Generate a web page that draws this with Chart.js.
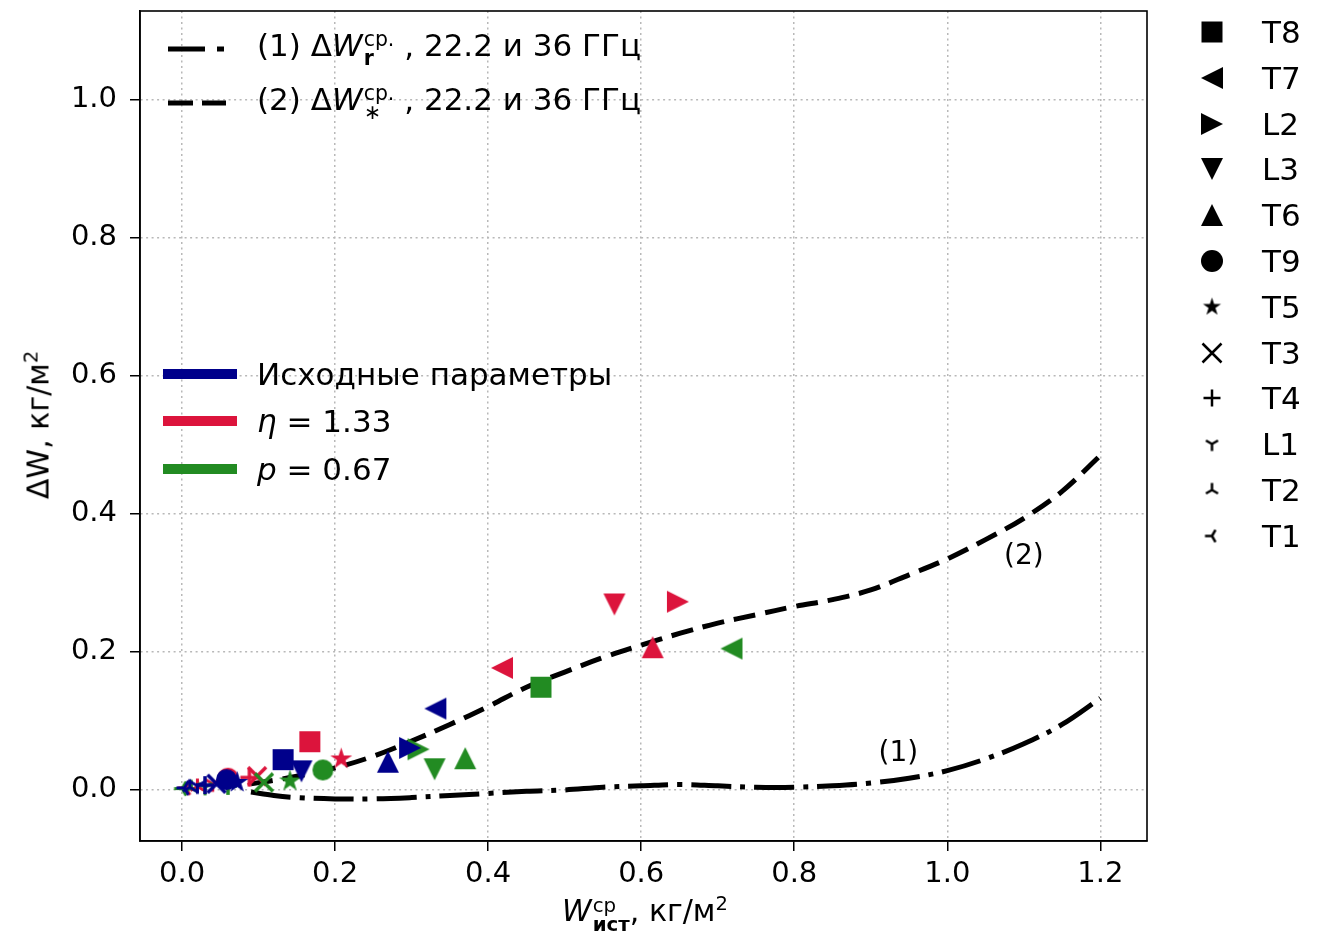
<!DOCTYPE html>
<html>
<head>
<meta charset="utf-8">
<script src="https://cdn.jsdelivr.net/npm/chart.js@4.4.0/dist/chart.umd.min.js"></script>
<style>
body { margin: 0; background: #fff; font-family: "DejaVu Sans", sans-serif; color: #000; }
#wrap { position: relative; width: 1328px; height: 944px; overflow: hidden; }
#myChart { position: absolute; left: 0; top: 0; }
.lbl { position: absolute; font-size: 31px; white-space: nowrap; line-height: 1; transform: translateY(-50%); }
.ss { display: inline-flex; flex-direction: column; font-size: 0.66em; line-height: 0.95; vertical-align: 0.5em; margin-left: 1px; }
.ss b { font-weight: bold; }
.sw { position: absolute; }
.bar { position: absolute; left: 163px; width: 74px; height: 10px; transform: translateY(-50%); }
.ann { position: absolute; font-size: 28px; transform: translate(-50%, -50%); white-space: nowrap; }
.mk { position: absolute; transform: translate(-50%, -50%); }
#ytitle { position: absolute; left: 38px; top: 425px; font-size: 30px; white-space: nowrap; transform: translate(-50%, -50%) rotate(-90deg); }
#xtitle { position: absolute; left: 645px; top: 914px; font-size: 30px; white-space: nowrap; transform: translate(-50%, -50%); }
sup.p { font-size: 0.65em; vertical-align: 0.55em; line-height: 0; }
</style>
</head>
<body>
<div id="wrap">
  <canvas id="myChart" width="1328" height="944"></canvas>

  <svg class="sw" style="left:168px;top:43px" width="60" height="12"><line x1="0" y1="6" x2="58" y2="6" stroke="#000" stroke-width="5" stroke-dasharray="37 12 7 10"/></svg>
  <div class="lbl" style="left:257px;top:49px">(1) Δ<i>W</i><span class="ss"><span>ср.</span><b>r</b></span> , 22.2 и 36 ГГц</div>
  <svg class="sw" style="left:168px;top:97px" width="60" height="12"><line x1="0" y1="6" x2="58" y2="6" stroke="#000" stroke-width="5" stroke-dasharray="25 9"/></svg>
  <div class="lbl" style="left:257px;top:103px">(2) Δ<i>W</i><span class="ss"><span>ср.</span><span>∗</span></span> , 22.2 и 36 ГГц</div>

  <div class="bar" style="top:374px;background:#00008b"></div>
  <div class="lbl" style="left:257px;top:374px">Исходные параметры</div>
  <div class="bar" style="top:421px;background:#dc143c"></div>
  <div class="lbl" style="left:257px;top:421px"><i>η</i> = 1.33</div>
  <div class="bar" style="top:469px;background:#228b22"></div>
  <div class="lbl" style="left:257px;top:469px"><i>p</i> = 0.67</div>

  <div id="ann0" class="ann">(1)</div>
  <div id="ann1" class="ann">(2)</div>

  <div id="ytitle">ΔW, кг/м<sup class="p">2</sup></div>
  <div id="xtitle"><i>W</i><span class="ss" style="vertical-align:0.45em"><span>ср</span><b>ист</b></span>, кг/м<sup class="p">2</sup></div>

  <div id="rlegend"></div>
</div>
<script>
/* stations and their markers */
var stations = ['T8', 'T7', 'L2', 'L3', 'T6', 'T9', 'T5', 'T3', 'T4', 'L1', 'T2', 'T1']
var shapes = ['s', '<', '>', 'v', '^', 'o', '*', 'x', '+', '1', '2', '3']

/* Исходные параметры */
var baseX = [0.132, 0.331, 0.298, 0.156, 0.269, 0.058, 0.072, 0.045, 0.030, 0.020, 0.010, 0.003]
var baseY = [0.043, 0.117, 0.060, 0.026, 0.040, 0.014, 0.010, 0.008, 0.006, 0.005, 0.003, 0.002]
/* eta = 1.33 */
var etaX = [0.167, 0.418, 0.648, 0.565, 0.615, 0.060, 0.208, 0.098, 0.088, 0.040, 0.020, 0.005]
var etaY = [0.069, 0.176, 0.272, 0.268, 0.206, 0.016, 0.044, 0.019, 0.017, 0.008, 0.004, 0.002]
/* p = 0.67 */
var pX = [0.469, 0.718, 0.309, 0.330, 0.370, 0.184, 0.141, 0.107, 0.060, 0.030, 0.012, 0.000]
var pY = [0.148, 0.204, 0.058, 0.029, 0.045, 0.028, 0.012, 0.010, 0.005, 0.003, 0.002, 0.001]

/* fitted curves */
var curveX = [0.09, 0.12, 0.15, 0.2, 0.25, 0.3, 0.35, 0.4, 0.45, 0.5, 0.55, 0.6, 0.65, 0.7, 0.75, 0.8, 0.85, 0.9, 0.95, 1.0, 1.05, 1.1, 1.15, 1.2]
var curve1Y = [-0.004, -0.009, -0.012, -0.014, -0.014, -0.012, -0.009, -0.006, -0.003, -0.001, 0.003, 0.005, 0.007, 0.005, 0.003, 0.003, 0.005, 0.009, 0.016, 0.027, 0.044, 0.066, 0.094, 0.132]
var curve2Y = [0.008, 0.013, 0.019, 0.031, 0.048, 0.070, 0.094, 0.120, 0.148, 0.170, 0.191, 0.209, 0.226, 0.241, 0.253, 0.265, 0.275, 0.289, 0.311, 0.334, 0.362, 0.393, 0.432, 0.484]

var annotText = ['(1)', '(2)']
var annotX = [0.936, 1.1]
var annotY = [0.056, 0.341]

var xTicks = [0.0, 0.2, 0.4, 0.6, 0.8, 1.0, 1.2]
var yTicks = [0.0, 0.2, 0.4, 0.6, 0.8, 1.0]

var colBase = '#00008b'
var colEta = '#dc143c'
var colP = '#228b22'

// marker sizes like matplotlib (size, line width)
var dataSize = { 's': [21, 0], '<': [22, 0], '>': [22, 0], 'v': [22, 0], '^': [22, 0], 'o': [21, 0], '*': [23, 0], 'x': [18, 3.5], '+': [18, 3.5], '1': [16, 3], '2': [16, 3], '3': [16, 3] }
var legSize = { 's': [21, 0], '<': [22, 0], '>': [22, 0], 'v': [22, 0], '^': [22, 0], 'o': [22, 0], '*': [19, 0], 'x': [19, 2.5], '+': [17, 2.5], '1': [14, 2.5], '2': [14, 2.5], '3': [14, 2.5] }

function makeMarker(shape, color, size, lw) {
    var c = document.createElement('canvas')
    var d = Math.ceil(size + lw + 4)
    c.width = d
    c.height = d
    var g = c.getContext('2d')
    g.translate(d / 2, d / 2)
    g.fillStyle = color
    g.strokeStyle = color
    g.lineWidth = lw
    var r = size / 2
    g.beginPath()
    if (shape === 's') { g.rect(-r, -r, size, size); g.fill() }
    else if (shape === '<') { g.moveTo(-r, 0); g.lineTo(r, -r); g.lineTo(r, r); g.closePath(); g.fill() }
    else if (shape === '>') { g.moveTo(r, 0); g.lineTo(-r, -r); g.lineTo(-r, r); g.closePath(); g.fill() }
    else if (shape === 'v') { g.moveTo(0, r); g.lineTo(-r, -r); g.lineTo(r, -r); g.closePath(); g.fill() }
    else if (shape === '^') { g.moveTo(0, -r); g.lineTo(-r, r); g.lineTo(r, r); g.closePath(); g.fill() }
    else if (shape === 'o') { g.arc(0, 0, r, 0, Math.PI * 2); g.fill() }
    else if (shape === '*') {
        for (var k = 0; k < 10; k++) {
            var rr = k % 2 === 0 ? r : r * 0.382
            var a = -Math.PI / 2 + k * Math.PI / 5
            if (k === 0) g.moveTo(rr * Math.cos(a), rr * Math.sin(a))
            else g.lineTo(rr * Math.cos(a), rr * Math.sin(a))
        }
        g.closePath()
        g.fill()
    }
    else if (shape === 'x') { g.moveTo(-r, -r); g.lineTo(r, r); g.moveTo(-r, r); g.lineTo(r, -r); g.stroke() }
    else if (shape === '+') { g.moveTo(-r, 0); g.lineTo(r, 0); g.moveTo(0, -r); g.lineTo(0, r); g.stroke() }
    else {
        var pts
        if (shape === '1') pts = [[0, r], [-0.866 * r, -0.5 * r], [0.866 * r, -0.5 * r]]
        if (shape === '2') pts = [[0, -r], [-0.866 * r, 0.5 * r], [0.866 * r, 0.5 * r]]
        if (shape === '3') pts = [[-r, 0], [0.5 * r, -0.866 * r], [0.5 * r, 0.866 * r]]
        pts.forEach(function (p) { g.moveTo(0, 0); g.lineTo(p[0], p[1]) })
        g.stroke()
    }
    return c
}

function series(xs, ys) {
    return xs.map(function (v, i) { return { x: v, y: ys[i] } })
}

function markerDataset(xs, ys, color, order) {
    return {
        data: series(xs, ys),
        pointStyle: shapes.map(function (s) { return makeMarker(s, color, dataSize[s][0], dataSize[s][1]) }),
        pointRadius: 10,
        order: order
    }
}

/* right legend with the station markers */
var rleg = document.getElementById('rlegend')
stations.forEach(function (name, i) {
    var y = 32 + i * 45.8
    var m = makeMarker(shapes[i], '#000', legSize[shapes[i]][0], legSize[shapes[i]][1])
    m.className = 'mk'
    m.style.left = '1212px'
    m.style.top = y + 'px'
    rleg.appendChild(m)
    var t = document.createElement('div')
    t.className = 'lbl'
    t.style.left = '1262px'
    t.style.top = y + 'px'
    t.textContent = name
    rleg.appendChild(t)
})

var framePlugin = {
    id: 'frame',
    afterDatasetsDraw: function (c) {
        var a = c.chartArea
        var g = c.ctx
        g.save()
        g.strokeStyle = '#000'
        g.lineWidth = 1.6
        g.strokeRect(a.left, a.top, a.right - a.left, a.bottom - a.top)
        g.restore()
    }
}

var annotPlugin = {
    id: 'annot',
    afterDraw: function (c) {
        annotText.forEach(function (txt, i) {
            var el = document.getElementById('ann' + i)
            el.textContent = txt
            el.style.left = c.scales.x.getPixelForValue(annotX[i]) + 'px'
            el.style.top = c.scales.y.getPixelForValue(annotY[i]) + 'px'
        })
    }
}

var tickFont = { family: 'DejaVu Sans', size: 29 }
var gridOpts = { color: '#b8b8b8', lineWidth: 1.5, tickColor: '#000', tickWidth: 1.5, tickLength: 10, tickBorderDash: [] }
var borderOpts = { display: true, color: '#000', width: 1.6, dash: [2, 3.5] }

const ctx = document.getElementById('myChart')
const chart = new Chart(ctx, {
    type: 'scatter',
    data: {
        datasets: [
            markerDataset(baseX, baseY, colBase, 1),
            markerDataset(pX, pY, colP, 2),
            markerDataset(etaX, etaY, colEta, 3),
            {
                data: series(curveX, curve1Y),
                showLine: true,
                pointRadius: 0,
                borderColor: '#000',
                borderWidth: 5,
                borderDash: [40, 9, 5, 9],
                borderCapStyle: 'butt',
                tension: 0.35,
                order: 5
            },
            {
                data: series(curveX, curve2Y),
                showLine: true,
                pointRadius: 0,
                borderColor: '#000',
                borderWidth: 5,
                borderDash: [22, 10],
                borderCapStyle: 'butt',
                tension: 0.35,
                order: 4
            }
        ]
    },
    options: {
        responsive: false,
        animation: false,
        events: [],
        layout: { padding: { top: 8, right: 181, bottom: 0, left: 0 } },
        plugins: { legend: { display: false }, tooltip: { enabled: false } },
        scales: {
            x: {
                type: 'linear',
                min: -0.055,
                max: 1.261,
                afterFit: function (s) { s.height = 103; s.paddingLeft = 0; s.paddingRight = 0 },
                afterBuildTicks: function (s) { s.ticks = xTicks.map(function (v) { return { value: v } }) },
                ticks: { font: tickFont, color: '#000', padding: 6, maxRotation: 0, autoSkip: false, callback: function (v) { return v.toFixed(1) } },
                grid: gridOpts,
                border: borderOpts
            },
            y: {
                type: 'linear',
                min: -0.075,
                max: 1.1286,
                afterFit: function (s) { s.width = 140; s.paddingTop = 0; s.paddingBottom = 0 },
                afterBuildTicks: function (s) { s.ticks = yTicks.map(function (v) { return { value: v } }) },
                ticks: { font: tickFont, color: '#000', padding: 13, autoSkip: false, callback: function (v) { return v.toFixed(1) } },
                grid: gridOpts,
                border: borderOpts
            }
        }
    },
    plugins: [framePlugin, annotPlugin]
})
</script>
</body>
</html>
